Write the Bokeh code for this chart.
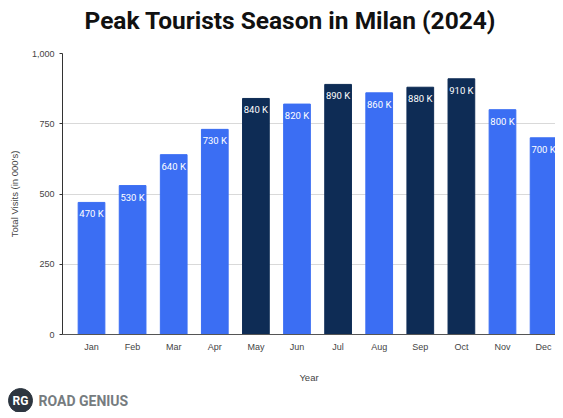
from bokeh.plotting import figure
from bokeh.layouts import column
from bokeh.models import ColumnDataSource, Range1d, NumeralTickFormatter, LabelSet, FixedTicker
from bokeh.embed import file_html
from bokeh.resources import INLINE
from bokeh.core.properties import value

months = ["Jan", "Feb", "Mar", "Apr", "May", "Jun", "Jul", "Aug", "Sep", "Oct", "Nov", "Dec"]
visits = [470, 530, 640, 730, 840, 820, 890, 860, 880, 910, 800, 700]
peak = [False, False, False, False, True, False, True, False, True, True, False, False]
y_ticks = [0, 250, 500, 750, 1000]
title_text = "Peak Tourists Season in Milan (2024)"

BLUE = "#3b6ef3"
NAVY = "#0e2c55"

pos = list(range(len(months)))
src = ColumnDataSource(dict(
    pos=pos,
    month=months,
    visits=visits,
    color=[NAVY if pk else BLUE for pk in peak],
    label=[f"{v} K" for v in visits],
))


def bare(fig):
    fig.outline_line_color = None
    fig.grid.visible = False
    if "frame_align" in fig.properties():
        fig.frame_align = False
    return fig


# title strip
head = bare(figure(
    width=555, height=45, x_range=Range1d(0, 555), y_range=Range1d(0, 45),
    output_backend="svg", toolbar_location=None,
    x_axis_type=None, y_axis_type=None, min_border=0,
))
head.text(x=[84], y=[25], text=[title_text], text_color="#111111", text_font_size="24.5px",
          text_font_style="bold", text_font=value("Roboto"),
          text_align="left", text_baseline="middle")

# main chart
p = figure(
    width=555, height=341,
    x_range=Range1d(-0.706, 11.29),
    y_range=Range1d(0, 1000),
    output_backend="svg", toolbar_location=None,
    min_border_left=62, min_border_right=0, min_border_top=8, min_border_bottom=52,
)
p.outline_line_color = None
if "frame_align" in p.properties():
    p.frame_align = False

p.vbar(x="pos", top="visits", width=0.65, color="color", source=src)

p.add_layout(LabelSet(x="pos", y="visits", text="label", source=src,
                      text_color="white", text_font_size="9.5px", text_font=value("Roboto"),
                      text_align="center", text_baseline="top", y_offset=-6))

p.xgrid.grid_line_color = None
p.ygrid.grid_line_color = "#d9d9d9"
p.xaxis.ticker = FixedTicker(ticks=pos)
p.xaxis.major_label_overrides = {i: m for i, m in zip(pos, months)}
p.xaxis.minor_tick_line_color = None
p.yaxis.ticker = y_ticks
p.yaxis.formatter = NumeralTickFormatter(format="0,0")
p.yaxis.minor_tick_line_color = None
p.yaxis.major_tick_in = 0
p.yaxis.major_tick_out = 3
p.yaxis.axis_line_color = "#333333"
p.yaxis.major_tick_line_color = "#333333"
p.xaxis.axis_line_color = "#555555"
p.xaxis.major_tick_line_color = None
for ax in (p.xaxis, p.yaxis):
    ax.major_label_text_font_size = "9px"
    ax.major_label_text_color = "#444444"
    ax.major_label_text_font = "Liberation Sans"
    ax.axis_label_text_font_size = "9.5px"
    ax.axis_label_text_font_style = "normal"
    ax.axis_label_text_color = "#444444"
    ax.axis_label_text_font = "Liberation Sans"
p.xaxis.axis_label = "Year"
p.xaxis.axis_label_standoff = 17
p.xaxis.major_label_standoff = 1
p.yaxis.axis_label = "Total Visits (in 000's)"
p.yaxis.axis_label_standoff = 9

# brand logo strip
logo = bare(figure(
    width=150, height=26, x_range=Range1d(0, 150), y_range=Range1d(0, 26),
    output_backend="svg", toolbar_location=None,
    x_axis_type=None, y_axis_type=None, min_border=0,
))
logo.scatter(x=[20], y=[12], size=24, color="#2d3640")
logo.text(x=[20], y=[12], text=["RG"], text_color="white", text_font_size="12px",
          text_font_style="bold", text_font=value("Roboto"),
          text_align="center", text_baseline="middle")
logo.text(x=[38], y=[12], text=["ROAD GENIUS"], text_color="#767c80", text_font_size="14px",
          text_font_style="bold", text_font=value("Roboto"),
          text_align="left", text_baseline="middle")

layout = column(head, p, logo, spacing=0)
open("out.html", "w").write(file_html(layout, INLINE))
